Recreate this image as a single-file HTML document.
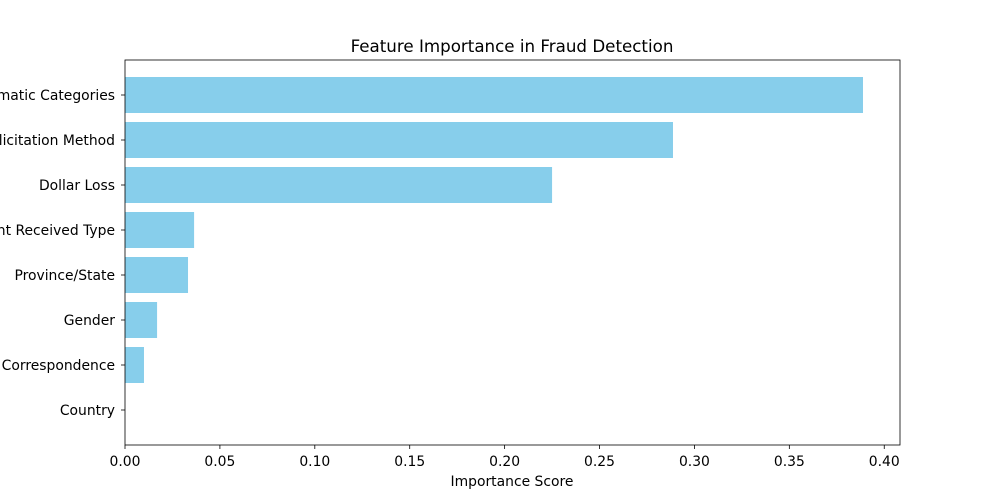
<!DOCTYPE html>
<html><head><meta charset="utf-8"><style>
html,body{margin:0;padding:0;background:#fff}
svg{display:block;font-family:"DejaVu Sans","Liberation Sans",sans-serif}
</style></head><body>
<svg id="chart" width="1000" height="500" viewBox="0 0 1000 500" xmlns="http://www.w3.org/2000/svg">
<text x="512" y="52" font-size="16.7" text-anchor="middle">Feature Importance in Fraud Detection</text>
<g id="bars"></g>
<g id="yticks"></g>
<g id="xticks"></g>
<rect x="125" y="60" width="775" height="385" fill="none" stroke="#000" stroke-width="0.8"/>
<text x="512" y="486" font-size="13.9" text-anchor="middle">Importance Score</text>
</svg>
<script>
const categories=["Thematic Categories","Solicitation Method","Dollar Loss","Complaint Received Type","Province/State","Gender","Language of Correspondence","Country"];
const values=[0.3888,0.2887,0.225,0.0364,0.0332,0.0169,0.010,0.0];
const xTicks=[0,0.05,0.10,0.15,0.20,0.25,0.30,0.35,0.40];
const xTickLabels=["0.00","0.05","0.10","0.15","0.20","0.25","0.30","0.35","0.40"];
const NS="http://www.w3.org/2000/svg";
const L=125,R=900,T=60,B=445,XMAX=0.4083;
const x=v=>L+v/XMAX*(R-L);
const y=i=>T+35+i*45;
function mk(t,a,p){const e=document.createElementNS(NS,t);for(const k in a)e.setAttribute(k,a[k]);p.appendChild(e);return e;}
const bars=document.getElementById('bars'),yt=document.getElementById('yticks'),xt=document.getElementById('xticks');
categories.forEach((c,i)=>{
  const r=mk('rect',{x:x(0),y:y(i)-18,width:x(values[i])-x(0),height:36,fill:'#87ceeb'},bars);
  
  
  const tk=mk('line',{x1:L-4,x2:L,y1:y(i),y2:y(i),stroke:'#000','stroke-width':0.8},yt);
  
  
  const t=mk('text',{x:L-10,y:y(i)+5,'font-size':13.9,'text-anchor':'end'},yt);
  t.textContent=c;
  
  
});
xTicks.forEach((v,i)=>{
  const tk=mk('line',{x1:x(v),x2:x(v),y1:B,y2:B+4,stroke:'#000','stroke-width':0.8},xt);
  
  
  const t=mk('text',{x:x(v),y:B+21,'font-size':13.9,'text-anchor':'middle'},xt);
  t.textContent=xTickLabels[i];
  
  
});
</script>
</body></html>
